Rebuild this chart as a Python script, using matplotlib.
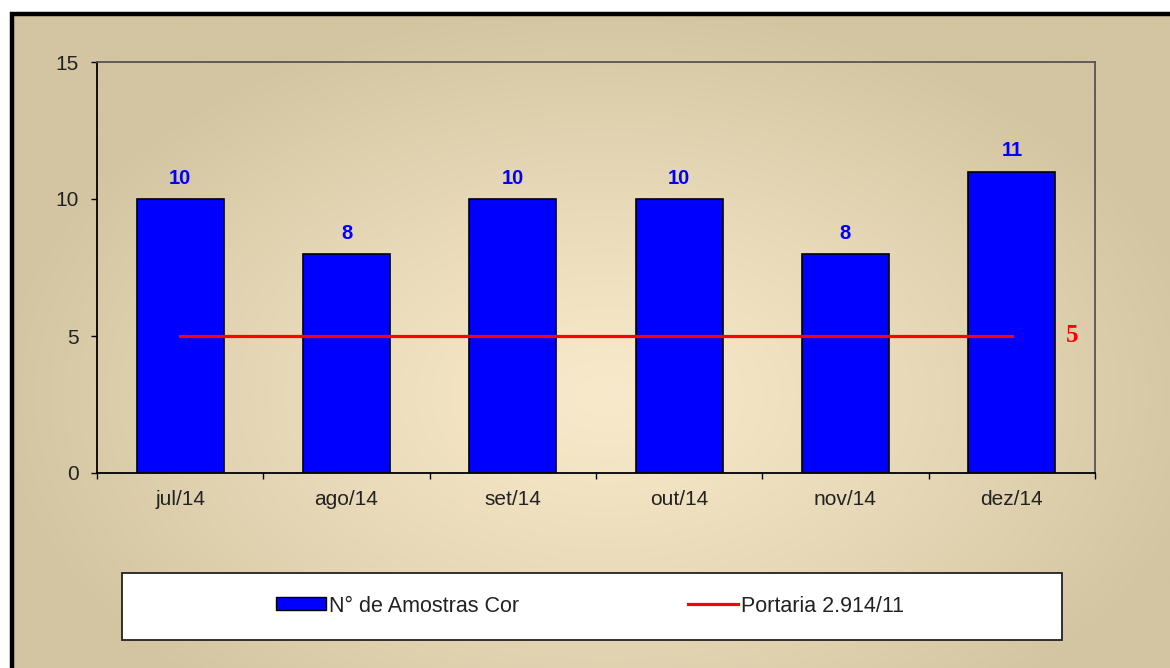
import numpy as np
import matplotlib
matplotlib.use('Agg')
import matplotlib.pyplot as plt
from matplotlib.patches import Rectangle, Patch
from matplotlib.lines import Line2D

plt.rcParams['font.family'] = ['Liberation Sans', 'DejaVu Sans']

# dados
meses = ['jul/14', 'ago/14', 'set/14', 'out/14', 'nov/14', 'dez/14']
amostras_cor = [10, 8, 10, 10, 8, 11]
portaria = [5, 5, 5, 5, 5, 5]
yticks = [0, 5, 10, 15]

W, H = 1170, 668
fig = plt.figure(figsize=(W / 100, H / 100), dpi=100)
fig.patch.set_facecolor('white')

# fundo com gradiente radial
bg = fig.add_axes([0, 0, 1, 1], zorder=-1)
bg.set_xlim(0, W)
bg.set_ylim(H, 0)
bg.axis('off')
gx, gy = np.meshgrid(np.arange(W), np.arange(H))
r = np.sqrt(((gx - 600) / 620.0) ** 2 + ((gy - 390) / 400.0) ** 2)
r = np.clip(r, 0, 1) ** 1.2
c_in = np.array([248, 233, 202]) / 255.0
c_out = np.array([211, 197, 161]) / 255.0
img = c_in[None, None, :] * (1 - r[..., None]) + c_out[None, None, :] * r[..., None]
bg.imshow(img, extent=[12, W, H, 13], aspect='auto', interpolation='bilinear')
bg.plot([12, 12, W], [H, 13.5, 13.5], color='black', lw=3.2, solid_capstyle='butt',
        solid_joinstyle='miter')

# área do gráfico
ax = fig.add_axes([97 / W, 1 - 473 / H, (1095 - 97) / W, (473 - 62) / H])
ax.set_facecolor('none')
x = np.arange(len(meses))
ax.bar(x, amostras_cor, width=0.525, color='#0000ff', edgecolor='black', linewidth=1.2,
       zorder=2)
ax.plot(x, portaria, color='#ff0000', lw=2.3, zorder=3)

for xi, v in zip(x, amostras_cor):
    ax.annotate(str(v), (xi, v), xytext=(0, 11), textcoords='offset points',
                ha='center', va='baseline', color='#0000ff', fontsize=14.5,
                fontweight='bold')
ax.text(x[-1] + 0.36, portaria[-1], str(portaria[-1]), color='#ff0000', fontsize=18,
        fontweight='bold', family='Liberation Serif', ha='center', va='center')

ax.set_xlim(-0.5, len(meses) - 0.5)
ax.set_ylim(0, 15)
ax.set_yticks(yticks)
ax.set_yticklabels([str(t) for t in yticks])
ax.set_xticks(x)
ax.set_xticklabels(meses)
ax.set_xticks(np.arange(len(meses) + 1) - 0.5, minor=True)
ax.tick_params(axis='x', which='major', length=0, pad=12, labelsize=15, labelcolor='#222222')
ax.tick_params(axis='x', which='minor', length=4, width=1, direction='out', color='black')
ax.tick_params(axis='y', length=4, width=1, pad=9, labelsize=15, labelcolor='#222222')
for s in ['left', 'bottom']:
    ax.spines[s].set_color('black')
    ax.spines[s].set_linewidth(1.3)
for s in ['top', 'right']:
    ax.spines[s].set_color('#555555')
    ax.spines[s].set_linewidth(1.3)

# legenda
fig.patches.append(Rectangle((122 / W, 1 - 640 / H), 940 / W, 67 / H,
                             transform=fig.transFigure, facecolor='white',
                             edgecolor='#222222', linewidth=1.3))
handles = [Patch(facecolor='#0000ff', edgecolor='black', linewidth=1.0),
           Line2D([], [], color='#ff0000', lw=2.3)]
fig.legend(handles, ['N° de Amostras Cor', 'Portaria 2.914/11'], loc='center',
           bbox_to_anchor=(590 / W, 1 - 606 / H), ncol=2, frameon=False,
           fontsize=15.5, handlelength=2.33, handleheight=0.55, handletextpad=0.14,
           columnspacing=7.8, labelcolor='#222222')

fig.savefig('out.png', dpi=100)
